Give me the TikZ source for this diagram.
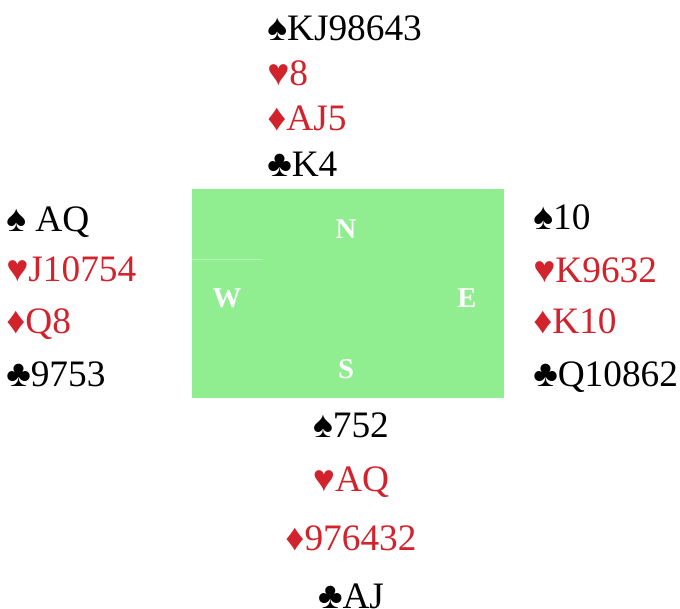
\documentclass[tikz,border=0pt]{standalone}
\usepackage{fontspec}
\setmainfont{Liberation Serif}
\definecolor{suitred}{RGB}{210,35,45}
\definecolor{tablegreen}{RGB}{144,238,144}
\tikzset{
    hand/.style={anchor=base west, inner sep=0pt, font=\fontsize{28}{28}\selectfont},
    redhand/.style={hand, text=suitred},
    seat/.style={anchor=base, inner sep=0pt, text=white, font=\fontsize{21.5}{21.5}\selectfont\bfseries}
}

\begin{document}
\begin{tikzpicture}[x=0.75pt, y=-0.75pt]
            \useasboundingbox (0,0) rectangle (680,608);

            \fill[tablegreen] (192,189) rectangle (504,398);
            \draw[tablegreen!70!white, line width=0.4pt] (192,259) -- (262,259);

            \node[seat] (north) at (346,238) {N};
            \node[seat] (west) at (227,307) {W};
            \node[seat] (east) at (467,307) {E};
            \node[seat] (south) at (346,378) {S};

            \node[hand] (n1) at (267,40) {♠KJ98643};
            \node[redhand] (n2) at (267,85) {♥8};
            \node[redhand] (n3) at (267,130) {♦AJ5};
            \node[hand] (n4) at (267,176) {♣K4};

            \node[hand] (w1) at (6,231) {♠ AQ};
            \node[redhand] (w2) at (6,281) {♥J10754};
            \node[redhand] (w3) at (6,333) {♦Q8};
            \node[hand] (w4) at (6,386) {♣9753};

            \node[hand] (e1) at (533,229) {♠10};
            \node[redhand] (e2) at (533,282) {♥K9632};
            \node[redhand] (e3) at (533,333) {♦K10};
            \node[hand] (e4) at (533,386) {♣Q10862};

            \node[hand, anchor=base] (s1) at (351,437) {♠752};
            \node[redhand, anchor=base] (s2) at (351,491) {♥AQ};
            \node[redhand, anchor=base] (s3) at (351,550) {♦976432};
            \node[hand, anchor=base] (s4) at (351,608) {♣AJ};
\end{tikzpicture}
\end{document}
